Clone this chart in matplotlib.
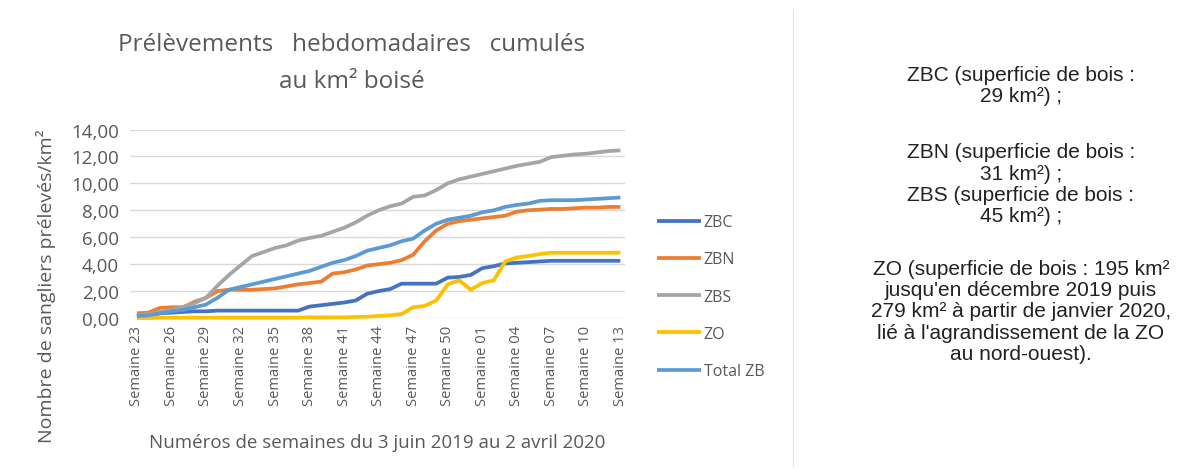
import matplotlib
matplotlib.use("Agg")
from matplotlib import pyplot as plt
from matplotlib.lines import Line2D

# semaines du 3 juin 2019 (S23) au 2 avril 2020 (S13)
semaines = [str(s) for s in range(23, 53)] + ["%02d" % s for s in range(1, 14)]

zbc = [0.15, 0.2, 0.35, 0.4, 0.45, 0.5, 0.5, 0.55, 0.55, 0.55, 0.55, 0.55, 0.55, 0.55,
       0.55, 0.85, 0.95, 1.05, 1.15, 1.3, 1.8, 2.0, 2.15, 2.55, 2.55, 2.55, 2.55, 3.0,
       3.05, 3.2, 3.7, 3.85, 4.05, 4.1, 4.15, 4.2, 4.25, 4.25, 4.25, 4.25, 4.25, 4.25, 4.25]
zbn = [0.35, 0.4, 0.75, 0.8, 0.8, 1.2, 1.5, 2.0, 2.1, 2.1, 2.1, 2.15, 2.2, 2.35,
       2.5, 2.6, 2.7, 3.3, 3.4, 3.6, 3.9, 4.0, 4.1, 4.3, 4.7, 5.7, 6.5, 7.0,
       7.2, 7.3, 7.4, 7.5, 7.6, 7.9, 8.0, 8.05, 8.1, 8.1, 8.15, 8.2, 8.2, 8.25, 8.25]
zbs = [0.2, 0.3, 0.45, 0.6, 0.8, 1.1, 1.5, 2.4, 3.2, 3.9, 4.6, 4.9, 5.2, 5.4,
       5.75, 5.95, 6.1, 6.4, 6.7, 7.1, 7.6, 8.0, 8.3, 8.5, 9.0, 9.1, 9.5, 10.0,
       10.3, 10.5, 10.7, 10.9, 11.1, 11.3, 11.45, 11.6, 11.95, 12.05, 12.15, 12.2, 12.3, 12.4, 12.45]
zo = [0.0, 0.0, 0.02, 0.03, 0.03, 0.03, 0.03, 0.03, 0.03, 0.03, 0.03, 0.03, 0.03, 0.03,
      0.03, 0.05, 0.05, 0.05, 0.05, 0.08, 0.1, 0.15, 0.2, 0.3, 0.8, 0.9, 1.3, 2.5,
      2.8, 2.1, 2.6, 2.8, 4.2, 4.5, 4.6, 4.75, 4.85, 4.85, 4.85, 4.85, 4.85, 4.85, 4.85]
total_zb = [0.15, 0.2, 0.35, 0.5, 0.6, 0.8, 1.0, 1.5, 2.1, 2.3, 2.5, 2.7, 2.9, 3.1,
            3.3, 3.5, 3.8, 4.1, 4.3, 4.6, 5.0, 5.2, 5.4, 5.7, 5.9, 6.5, 7.0, 7.3,
            7.45, 7.6, 7.85, 8.0, 8.25, 8.4, 8.5, 8.7, 8.75, 8.75, 8.75, 8.8, 8.85, 8.9, 8.95]

series = [("ZBC", zbc, "#4472C4"), ("ZBN", zbn, "#ED7D31"), ("ZBS", zbs, "#A5A5A5"),
          ("ZO", zo, "#FFC000"), ("Total ZB", total_zb, "#5B9BD5")]

plt.rcParams['font.family'] = ['Open Sans', 'DejaVu Sans']
gris = "#595959"

fig = plt.figure(figsize=(11.85, 4.77), dpi=100)
ax = fig.add_axes([0.1097, 0.3312, 0.4177, 0.3952])

x = list(range(len(semaines)))
for nom, vals, col in series:
    ax.plot(x, vals, color=col, lw=2.7, label=nom, clip_on=False, solid_capstyle='butt')

ax.set_xlim(-0.6, 42.4)
ax.set_ylim(0, 14)
ax.set_yticks(range(0, 15, 2))
ax.set_yticklabels(["%d,00" % v for v in range(0, 15, 2)], color=gris, fontsize=13.5)
ax.set_xticks(x[::3])
ax.set_xticklabels(["Semaine " + s for s in semaines[::3]], rotation=90, color=gris, fontsize=10.6)
ax.tick_params(axis='y', length=0, pad=8)
ax.tick_params(axis='x', length=0, pad=5)
ax.grid(axis='y', color="#D9D9D9", lw=1)
ax.set_axisbelow(True)
for sp in ax.spines.values():
    sp.set_visible(False)

ax.set_ylabel("Nombre de sangliers prélevés/km²", color=gris, fontsize=14)
ax.yaxis.set_label_coords(-0.15, 0.175)
ax.set_xlabel("Numéros de semaines du 3 juin 2019 au 2 avril 2020", color=gris, fontsize=13.5, labelpad=20)
fig.text(0.297, 0.905, "Prélèvements   hebdomadaires   cumulés", ha='center', va='center',
         color=gris, fontsize=17.5)
fig.text(0.297, 0.828, "au km² boisé", ha='center', va='center', color=gris, fontsize=17.5)

fig.legend(loc='upper left', bbox_to_anchor=(0.542, 0.579), frameon=False, fontsize=11.5,
           labelcolor=gris, handlelength=2.8, handletextpad=0.15, labelspacing=1.33)

# séparateur
fig.add_artist(Line2D([0.669, 0.669], [0.02, 0.98], color="#E6E6E6", lw=1))

notes = [
    (0.820, "ZBC (superficie de bois :\n29 km²) ;"),
    (0.613, "ZBN (superficie de bois :\n31 km²) ;\nZBS (superficie de bois :\n45 km²) ;"),
    (0.346, "ZO (superficie de bois : 195 km²\njusqu'en décembre 2019 puis\n279 km² à partir de janvier 2020,\nlié à l'agrandissement de la ZO\nau nord-ouest)."),
]
for yy, txt in notes:
    fig.text(0.8616, yy, txt, ha='center', va='center', fontsize=15, color="#222222",
             family=['Liberation Sans', 'DejaVu Sans'], linespacing=1.14)

fig.savefig("out.png", dpi=100)
